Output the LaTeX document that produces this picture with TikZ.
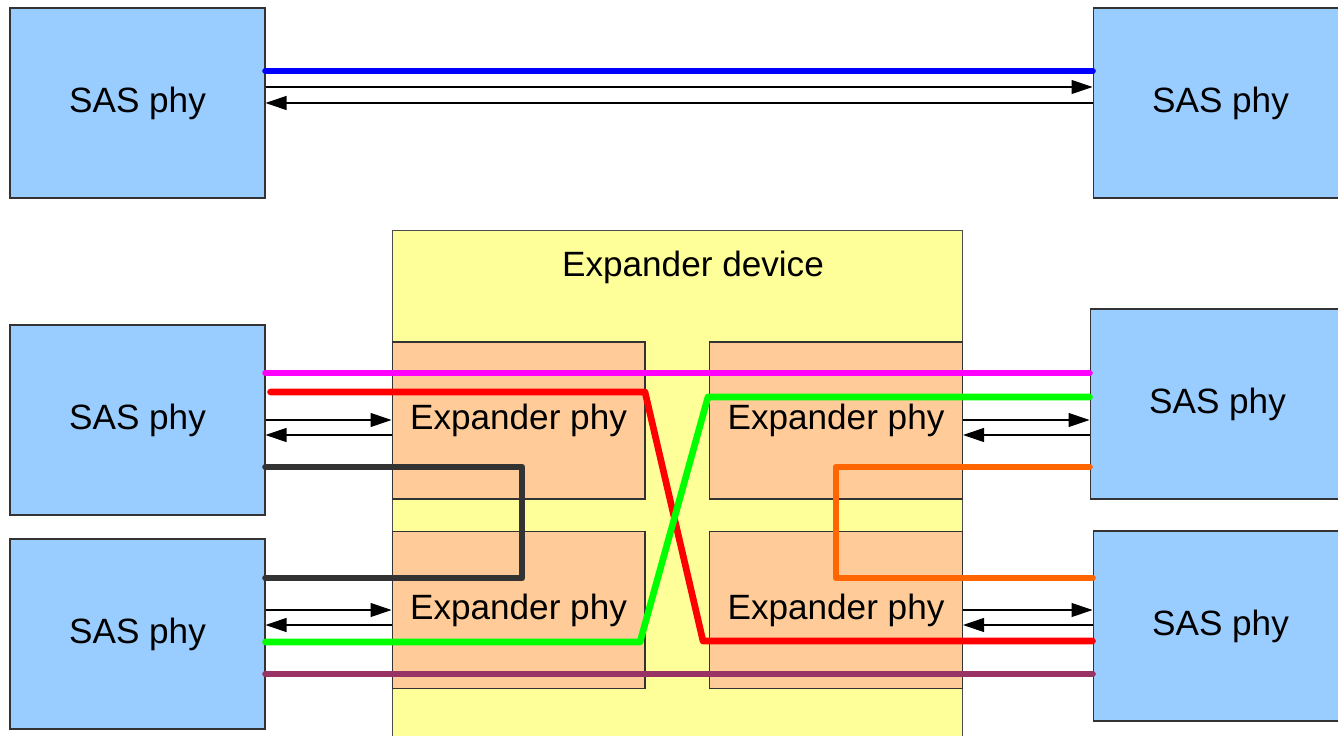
\documentclass[tikz,border=0pt]{standalone}
\usepackage{fontspec}
\setmainfont{Liberation Sans}
\usepackage{tikz}
\usetikzlibrary{arrows.meta,positioning}
\definecolor{PhyBlue}{HTML}{99CCFF}
\definecolor{PhyOrange}{HTML}{FFCC99}
\definecolor{DevYellow}{HTML}{FFFF99}
\definecolor{LinkBlue}{HTML}{0000FF}
\definecolor{LinkMagenta}{HTML}{FF00FF}
\definecolor{LinkRed}{HTML}{FF0000}
\definecolor{LinkGreen}{HTML}{00FF00}
\definecolor{LinkGray}{HTML}{333333}
\definecolor{LinkOrange}{HTML}{FF6600}
\definecolor{LinkPlum}{HTML}{993366}

\begin{document}
\begin{tikzpicture}[
  x=0.02cm,y=-0.02cm,
  sas/.style={draw=black!80,line width=0.6pt,fill=PhyBlue,minimum width=5.1cm,minimum height=3.8cm,font=\fontsize{20}{24}\selectfont},
  xphy/.style={draw=black!80,line width=0.6pt,fill=PhyOrange,minimum width=5.06cm,minimum height=3.14cm,font=\fontsize{20}{24}\selectfont},
  link/.style={line width=3.8pt,line cap=round,line join=round},
  sig/.style={line width=0.6pt,-{Triangle[length=0.42cm,width=0.28cm]}}
]
\useasboundingbox (0,0) rectangle (1338,736);
\clip (0,0) rectangle (1338,736);
% expander device and its phys
\node[draw=black!70,line width=0.6pt,fill=DevYellow,minimum width=11.42cm,minimum height=10.6cm] (dev) at (677.5,495) {};
\node[font=\fontsize{20}{24}\selectfont] (devlabel) at (693,267) {Expander device};
\node[xphy] (etl) at (518.5,420.5) {Expander phy};
\node[xphy] (etr) at (836,420.5) {Expander phy};
\node[xphy] (ebl) at (518.5,610) {Expander phy};
\node[xphy] (ebr) at (836,610) {Expander phy};
% end devices
\node[sas] (tl) at (137.5,103) {SAS phy};
\node[sas] (tr) at (1220.5,103) {SAS phy};
\node[sas] (lm) at (137.5,420) {SAS phy};
\node[sas] (lb) at (137.5,634) {SAS phy};
\node[sas] (rm) at (1217.5,404) {SAS phy};
\node[sas] (rb) at (1220.5,626) {SAS phy};
% direct link
\draw[link,LinkBlue] (tl.east |- 0,71) -- (tr.west |- 0,71);
\draw[sig] (tl.east |- 0,87) -- (tr.west |- 0,87);
\draw[sig] (tr.west |- 0,103) -- (tl.east |- 0,103);
% links through the expander
\draw[link,LinkMagenta] (lm.east |- 0,373) -- (rm.west |- 0,373);
\draw[link,LinkRed] ([xshift=0.1cm]lm.east |- 0,392) -- (645,392) -- (703,641) -- (rb.west |- 0,641);
\draw[link,LinkGreen] (lb.east |- 0,642) -- (640,642) -- (708,397) -- (rm.west |- 0,397);
\draw[link,LinkGray] (lm.east |- 0,467) -- (522,467) -- (522,578) -- (lb.east |- 0,578);
\draw[link,LinkOrange] (rm.west |- 0,467) -- (836,467) -- (836,578) -- (rb.west |- 0,578);
\draw[link,LinkPlum] (lb.east |- 0,674) -- (rb.west |- 0,674);
% signal pairs
\draw[sig] (lm.east |- 0,420) -- (etl.west |- 0,420);
\draw[sig] (etl.west |- 0,435) -- (lm.east |- 0,435);
\draw[sig] (lb.east |- 0,610) -- (ebl.west |- 0,610);
\draw[sig] (ebl.west |- 0,625) -- (lb.east |- 0,625);
\draw[sig] (etr.east |- 0,420) -- (rm.west |- 0,420);
\draw[sig] (rm.west |- 0,435) -- (etr.east |- 0,435);
\draw[sig] (ebr.east |- 0,610) -- (rb.west |- 0,610);
\draw[sig] (rb.west |- 0,625) -- (ebr.east |- 0,625);
\end{tikzpicture}
\end{document}
